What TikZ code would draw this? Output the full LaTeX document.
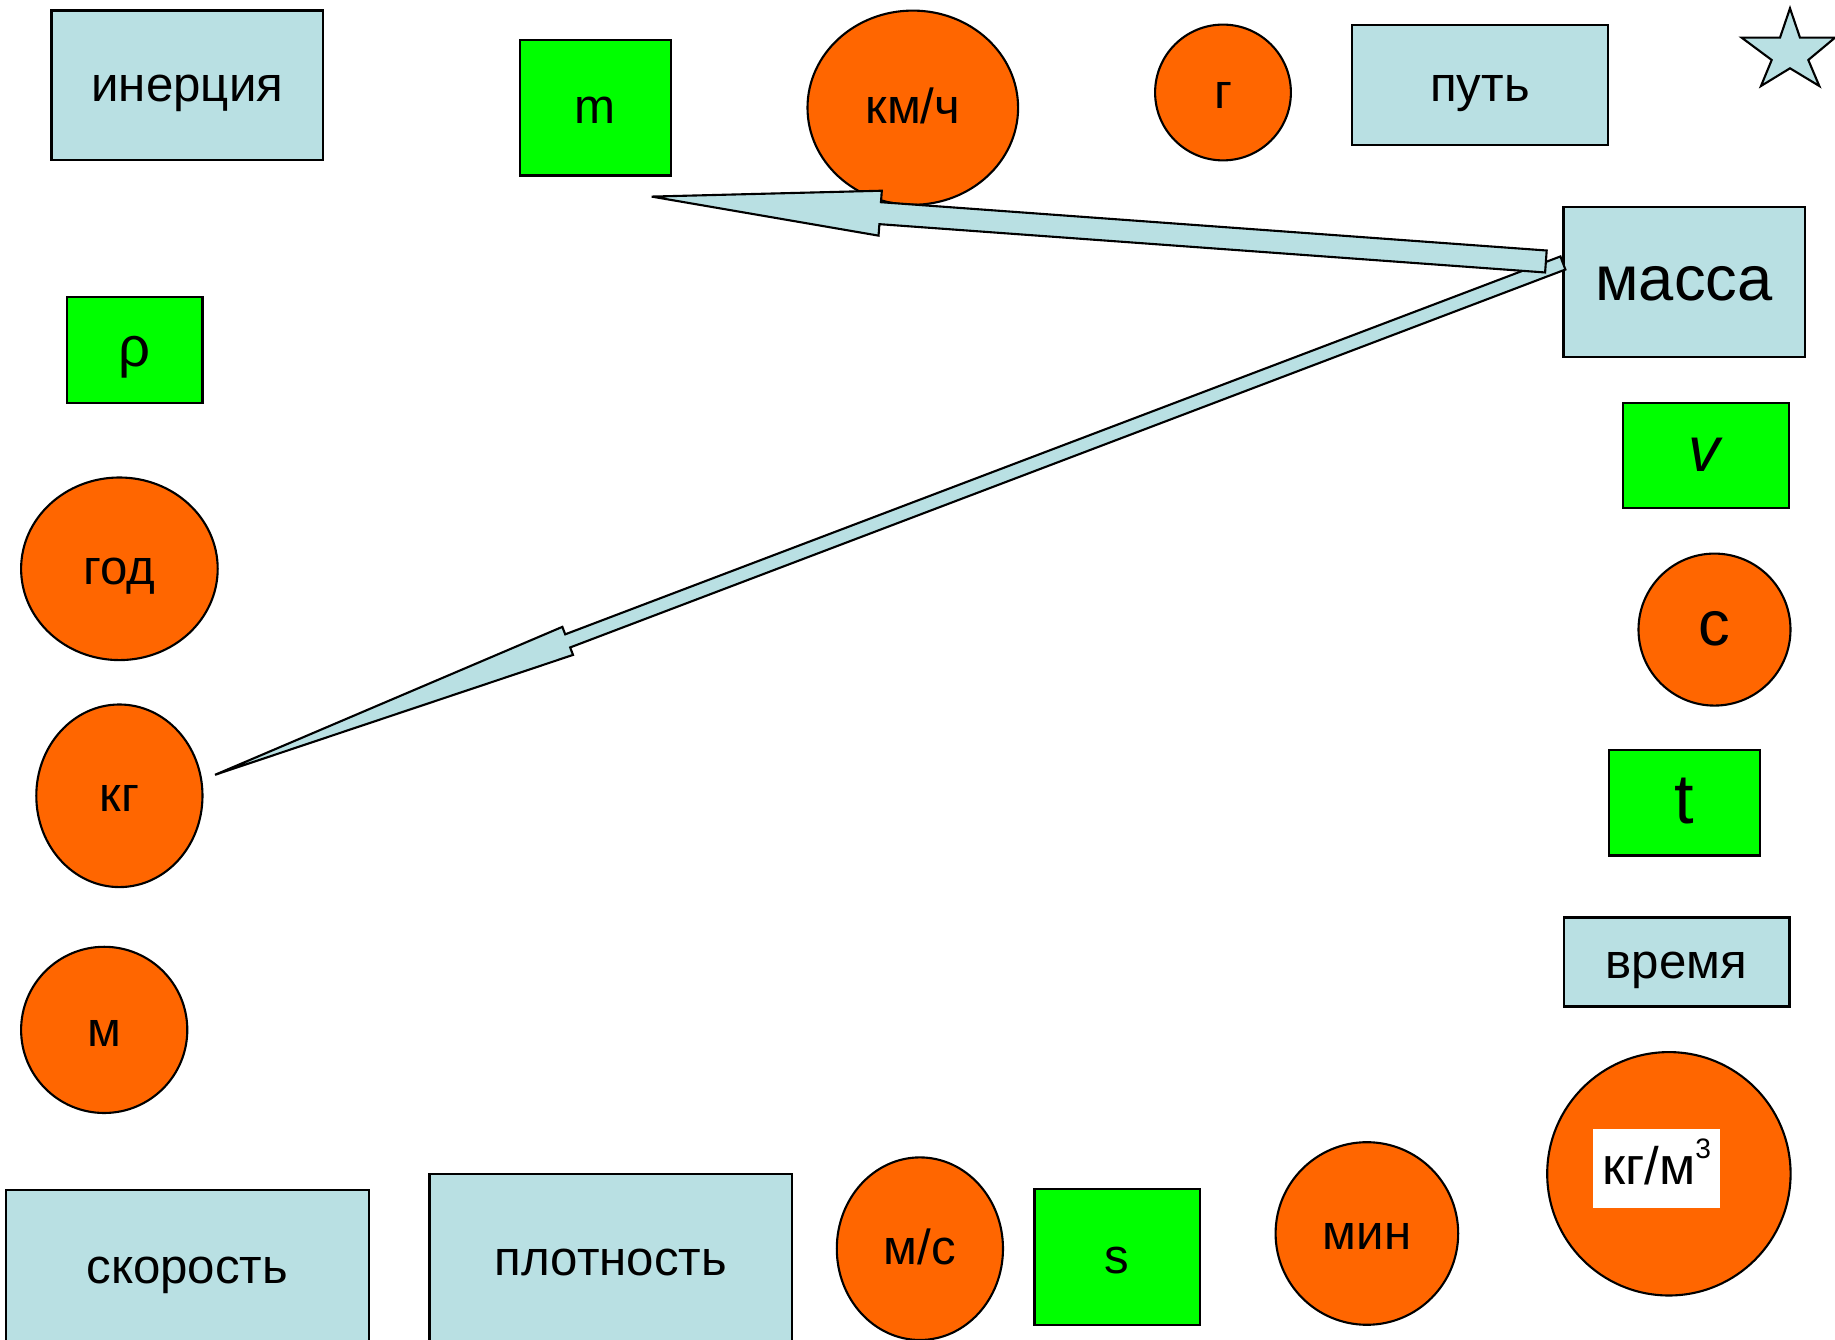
\documentclass[tikz,border=0pt]{standalone}
\usepackage{fontspec}
\setmainfont{Liberation Sans}
\usetikzlibrary{shapes.geometric, calc}

\definecolor{boxblue}{RGB}{185,224,227}
\definecolor{unitorange}{RGB}{255,102,0}
\definecolor{qtygreen}{RGB}{0,255,0}

% block arrow: tail, tip, shaft half width, head half width, head length
\newcommand{\blockarrow}[5]{%
  \coordinate (ba-b) at ($(#2)!#5!(#1)$);
  \draw[arrowbody] ($(#1)!#3!90:(#2)$) -- ($(ba-b)!#3!90:(#2)$)
    -- ($(ba-b)!#4!90:(#2)$) -- (#2) -- ($(ba-b)!#4!-90:(#2)$)
    -- ($(ba-b)!#3!-90:(#2)$) -- ($(#1)!#3!-90:(#2)$) -- cycle;
}

\begin{document}
\begin{tikzpicture}[x=0.01cm, y=-0.01cm, line width=0.6pt,
    wh/.style 2 args={minimum width=#1*0.01cm, minimum height=#2*0.01cm, inner sep=0pt,
      text height=1.13em, text depth=0.212em},
    termbox/.style={draw, fill=boxblue, font=\fontsize{14}{16}\selectfont},
    qtybox/.style={draw, fill=qtygreen, font=\fontsize{14}{16}\selectfont},
    unitc/.style={draw, fill=unitorange, ellipse, font=\fontsize{14}{16}\selectfont},
    arrowbody/.style={draw, fill=boxblue, line join=miter}]
  \useasboundingbox (0,0) rectangle (1835,1340);

  \node[termbox, wh={271.5}{149.8}] (inertia) at (187.3,85.4) {инерция};
  \node[termbox, wh={256.3}{120.5}] (path) at (1479.9,84.9) {путь};
  \node[termbox, wh={241.1}{149.9}, text height=1.28em, font=\fontsize{18}{20}\selectfont] (mass) at (1684,282) {масса};
  \node[termbox, wh={225.9}{89}] (time) at (1676.5,962) {время};
  \node[termbox, wh={362.7}{155}] (speed) at (187.3,1267.6) {скорость};
  \node[termbox, wh={362.8}{171}] (density) at (610.9,1259.4) {плотность};

  \node[qtybox, wh={151}{135.7}] (m) at (595.1,107.7) {m};
  \node[qtybox, wh={135.8}{105.3}, font=\fontsize{16}{18}\selectfont] (rho) at (134.6,350) {ρ};
  \node[qtybox, wh={166.2}{105.3}, font=\fontsize{18}{20}\selectfont] (v) at (1706.3,455.3) {\textit{v}};
  \node[qtybox, wh={150.9}{105.3}, text height=1.36em, font=\fontsize{20}{22}\selectfont] (t) at (1684.7,802.9) {t};
  \node[qtybox, wh={165.1}{135.8}] (s) at (1117,1256.9) {s};

  \node[unitc, wh={210.6}{194.2}] (kmh) at (912.8,107.7) {км/ч};
  \node[unitc, wh={135.8}{135.8}] (gram) at (1223,92.5) {г};
  \node[unitc, wh={196.6}{182.6}] (year) at (119.4,568.8) {год};
  \node[unitc, wh={166.2}{182.6}] (kg) at (119.4,795.8) {кг};
  \node[unitc, wh={166.2}{166.2}] (meter) at (104.2,1029.9) {м};
  \node[unitc, wh={166.2}{182.6}] (mps) at (919.9,1248.7) {м/с};
  \node[unitc, wh={182.6}{182.6}] (minute) at (1366.9,1233.5) {мин};
  \node[unitc, wh={152}{152}, font=\fontsize{18}{20}\selectfont] (sec) at (1714.5,629.6) {с};
  \node[unitc, wh={243.4}{243.4}] (kgm3) at (1668.9,1173.8) {};
  \node[fill=white, wh={126.4}{79}, font=\fontsize{15}{17}\selectfont] (kgm3text) at ($(kgm3)+(-12.4,-5.3)$)
    {кг/м\raisebox{0.5em}{\fontsize{8}{8}\selectfont 3}};

  \draw[fill=boxblue] (1790,8.3) -- (1800,37.7) -- (1835,37.7) -- (1808.3,60) -- (1819.3,86)
    -- (1790,68.3) -- (1761,86) -- (1771.7,60) -- (1741.7,37.7) -- (1780,37.7) -- cycle;

  \coordinate (tailkg) at ($(mass.west)+(0.5,-19)$);
  \coordinate (tipkg) at ($(kg.east)+(11.5,-21)$);
  \coordinate (tailm) at ($(mass.west)+(-16.5,-20.5)$);
  \coordinate (tipm) at ($(m.south east)+(-20,20)$);
  \blockarrow{tailkg}{tipkg}{0.07cm}{0.15cm}{3.77cm}
  \blockarrow{tailm}{tipm}{0.11cm}{0.225cm}{2.29cm}
\end{tikzpicture}
\end{document}
